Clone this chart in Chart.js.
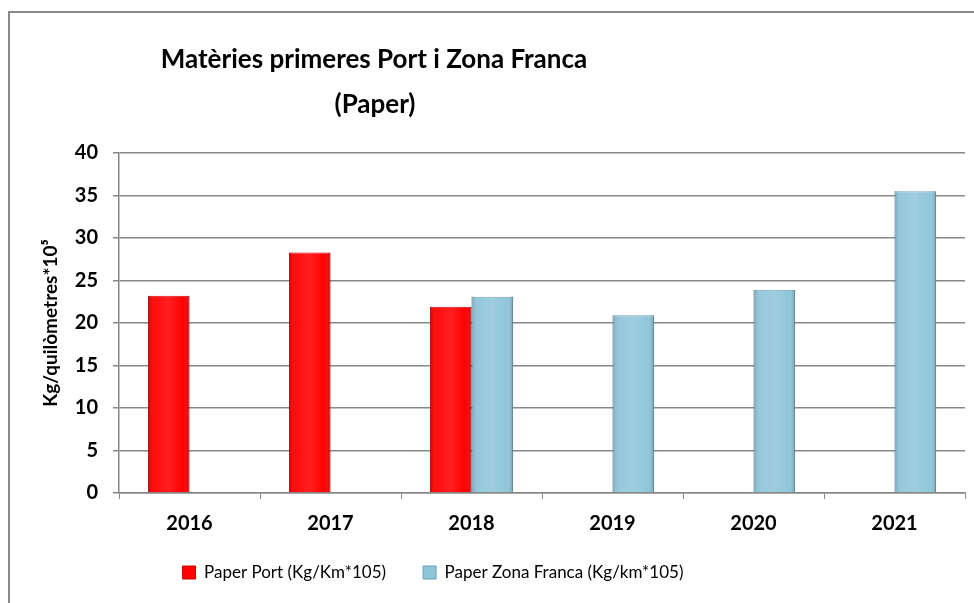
<!doctype html>
<html lang="ca">
  <head>
    <meta charset="utf-8">
    <title>Matèries primeres Port i Zona Franca (Paper)</title>
    <style>
      * { margin: 0; padding: 0; }
      body { background: #fff; }
      canvas { display: block; }
    </style>
  </head>
  <body>
    <canvas id="myChart" width="974" height="603"></canvas>
    <script src="https://cdn.jsdelivr.net/npm/chart.js/dist/chart.umd.min.js"></script>
    <script>
// data
const years = ['2016', '2017', '2018', '2019', '2020', '2021'];
const paperPort = [23.2, 28.3, 21.9, null, null, null];
const paperZonaFranca = [null, null, 23.1, 20.9, 23.9, 35.5];
const titleLines = ['Matèries primeres Port i Zona Franca', '(Paper)'];
const yTitle = 'Kg/quilòmetres*10⁵';

// title + frame drawn on the canvas
const framePlugin = {
  id: 'frame',
  beforeDraw(chart) {
    const ctx = chart.ctx;
    ctx.save();
    ctx.fillStyle = '#fff';
    ctx.fillRect(0, 0, chart.width, chart.height);
    ctx.strokeStyle = '#8a8a8a';
    ctx.lineWidth = 2;
    ctx.beginPath();
    ctx.moveTo(9, chart.height + 5);
    ctx.lineTo(9, 12);
    ctx.lineTo(chart.width + 5, 12);
    ctx.stroke();
    ctx.restore();
  },
  afterLayout(chart) {
    // legend sits left of centre (and a bit higher) in the original
    const lg = chart.legend;
    lg.left -= 70;
    lg.right -= 70;
    lg.top -= 5;
    lg.bottom -= 5;
  },
  afterDatasetsDraw(chart) {
    // soft bevel shading over each bar
    const ctx = chart.ctx;
    ctx.save();
    chart.data.datasets.forEach((ds, i) => {
      chart.getDatasetMeta(i).data.forEach((bar, j) => {
        if (ds.data[j] == null) return;
        const p = bar.getProps(['x', 'y', 'base', 'width']);
        const l = p.x - p.width / 2;
        const g = ctx.createLinearGradient(l, 0, l + p.width, 0);
        g.addColorStop(0, 'rgba(0,0,0,0.18)');
        g.addColorStop(0.15, 'rgba(255,255,255,0.05)');
        g.addColorStop(0.5, 'rgba(255,255,255,0.12)');
        g.addColorStop(0.85, 'rgba(255,255,255,0.0)');
        g.addColorStop(1, 'rgba(0,0,0,0.22)');
        ctx.fillStyle = g;
        ctx.fillRect(l, p.y, p.width, p.base - p.y);
      });
    });
    ctx.restore();
  },
  afterDraw(chart) {
    const ctx = chart.ctx;
    ctx.save();
    ctx.fillStyle = '#000';
    ctx.font = 'bold 26px Lato';
    ctx.textAlign = 'center';
    ctx.textBaseline = 'alphabetic';
    ctx.fillText(titleLines[0], 374, 68);
    ctx.fillText(titleLines[1], 375, 113);
    ctx.restore();
  }
};

const data = {
  labels: years,
  datasets: [{
    label: 'Paper Port (Kg/Km*105)',
    data: paperPort,
    backgroundColor: '#ff0000',
    borderColor: '#c80000',
    borderWidth: 1
  }, {
    label: 'Paper Zona Franca (Kg/km*105)',
    data: paperZonaFranca,
    backgroundColor: '#90c6da',
    borderColor: '#6c9fb2',
    borderWidth: 1
  }]
};

const config = {
  type: 'bar',
  data,
  plugins: [framePlugin],
  options: {
    responsive: false,
    animation: false,
    devicePixelRatio: 1,
    layout: { padding: { top: 153, left: 41, right: 9, bottom: 7 } },
    datasets: {
      bar: { barPercentage: 1, categoryPercentage: 0.59 }
    },
    plugins: {
      title: { display: false },
      tooltip: { enabled: false },
      legend: {
        position: 'bottom',
        labels: {
          boxWidth: 13,
          boxHeight: 13,
          padding: 37,
          color: '#000',
          font: { family: 'Lato', size: 17 }
        }
      }
    },
    scales: {
      x: {
        grid: { display: true, drawOnChartArea: false, drawTicks: true, tickLength: 6, color: '#888', offset: true },
        border: { color: '#888', width: 1.5 },
        ticks: { color: '#000', padding: 13, font: { family: 'Lato', size: 20, weight: 'bold' } },
        afterFit(scale) { scale.height = 39; }
      },
      y: {
        min: 0,
        max: 40,
        ticks: { stepSize: 5, color: '#000', padding: 15, font: { family: 'Lato', size: 20, weight: 'bold' } },
        grid: { color: '#888', lineWidth: 1.5, tickLength: 6 },
        border: { color: '#888', width: 1.5 },
        title: {
          display: true,
          text: yTitle,
          color: '#000',
          padding: 0,
          font: { family: 'Lato', size: 19, weight: 'bold', lineHeight: 1 }
        },
        afterFit(scale) { scale.width = 78; }
      }
    }
  }
};

const myChart = new Chart(document.getElementById('myChart'), config);
    </script>
  </body>
</html>
